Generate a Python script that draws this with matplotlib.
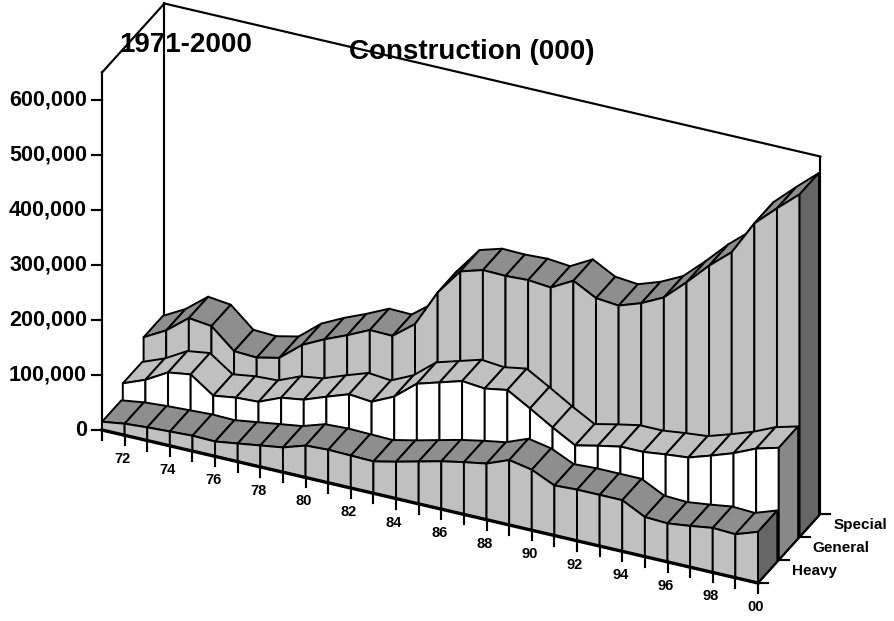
import matplotlib
matplotlib.use("Agg")
import matplotlib.pyplot as plt
from matplotlib.patches import Polygon

plt.rcParams['font.family'] = ['Liberation Sans', 'DejaVu Sans']

# Values in thousands, 1971..2000
years = list(range(1971, 2001))
heavy = [15, 21, 24, 26, 28, 27, 33, 39, 45, 58, 60, 59, 58, 67, 77, 87, 95, 102, 118, 110,
         91, 93, 93, 93, 72, 70, 75, 81, 79, 93]
general = [43, 59, 82, 88, 59, 65, 67, 84, 90, 105, 119, 115, 134, 167, 179, 191, 187, 194, 170, 145,
           122, 131, 139, 139, 144, 148, 161, 175, 193, 204]
special = [85, 107, 139, 134, 98, 96, 105, 138, 158, 175, 194, 193, 224, 291, 339, 351, 350, 352, 348, 370,
           348, 344, 358, 378, 415, 455, 489, 551, 588, 623]
series_names = ['Heavy', 'General', 'Special']
y_ticks = [0, 100, 200, 300, 400, 500, 600]
y_top = 650

# oblique projection: (year index, depth slot, value) -> figure pixels
def proj(i, d, v):
    return (102 + 22.62 * i + 20.8 * d, 430 + 5.276 * i - 23.0 * d - 0.55 * v)

RIB = 0.93  # ribbon depth, in slots
n = len(years)
series = [heavy, general, special]
wall_col = ['#c0c0c0', '#ffffff', '#c0c0c0']
top_col = ['#8e8e8e', '#c0c0c0', '#8e8e8e']
cap_col = ['#666666', '#888888', '#666666']
LW = 1.4
AXLW = 1.55

fig = plt.figure(figsize=(8.94, 6.21), dpi=100, facecolor='white')
ax = fig.add_axes([0, 0, 1, 1])
ax.set_xlim(0, 894)
ax.set_ylim(621, 0)
ax.axis('off')

def line(a, b, lw=AXLW, z=1):
    ax.plot([a[0], b[0]], [a[1], b[1]], color='black', lw=lw, zorder=z, solid_capstyle='projecting')

# back walls
line(proj(0, 0, 0), proj(0, 0, y_top))
line(proj(0, 0, y_top), proj(0, 3, y_top))
line(proj(0, 3, y_top), proj(n - 1, 3, y_top))
line(proj(0, 3, y_top), proj(0, 3, 0))
line(proj(n - 1, 3, y_top), proj(n - 1, 3, 0), z=1)

z = 2
def poly(pts, col):
    global z
    ax.add_patch(Polygon(pts, closed=True, facecolor=col, edgecolor='black', lw=LW,
                         joinstyle='round', zorder=z))
    z += 1

for d in (2, 1, 0):
    vals = series[d]
    for i in range(n - 1):
        poly([proj(i, d, vals[i]), proj(i + 1, d, vals[i + 1]),
              proj(i + 1, d + RIB, vals[i + 1]), proj(i, d + RIB, vals[i])], top_col[d])
    for i in range(n - 1):
        poly([proj(i, d, vals[i]), proj(i + 1, d, vals[i + 1]),
              proj(i + 1, d, 0), proj(i, d, 0)], wall_col[d])
    last = n - 1
    poly([proj(last, d, vals[last]), proj(last, d + RIB, vals[last]),
          proj(last, d + RIB, 0), proj(last, d, 0)], cap_col[d])

# front floor edge, axis ticks
line(proj(0, 0, 0), proj(n - 1, 0, 0), lw=2.4, z=z)
line(proj(n - 1, 0, 0), proj(n - 1, 3, 0), lw=AXLW, z=z)

for v in y_ticks:
    x, y = proj(0, 0, v)
    line((x - 10, y), (x, y), z=z)
    ax.text(x - 15, y, f'{v * 1000:,}', ha='right', va='center', fontsize=15.5,
            fontweight='bold', zorder=z + 1)

for i, yr in enumerate(years):
    x, y = proj(i, 0, 0)
    line((x, y), (x, y + 10), z=z)
    if yr % 2 == 0:
        ax.text(x - 2, y + 24, f'{yr % 100:02d}', ha='center', va='center', fontsize=10.5,
                fontweight='bold', zorder=z + 1)

for d, name in enumerate(series_names):
    x, y = proj(n - 1, d, 0)
    line((x, y), (x + 10, y), z=z)
for d, name in enumerate(series_names):
    x, y = proj(n - 1, d + 1, 0)
    ax.text(x + 13, y + 11, name, ha='left', va='center', fontsize=11, fontweight='bold', zorder=z + 1)
x, y = proj(n - 1, 3, 0)
line((x, y), (x + 10, y), z=z)

ax.text(185.5, 45, '1971-2000', ha='center', va='center', fontsize=20, fontweight='bold', zorder=z + 2)
ax.text(471.5, 52, 'Construction (000)', ha='center', va='center', fontsize=20, fontweight='bold', zorder=z + 2)

fig.savefig('out.png', dpi=100, facecolor='white')
